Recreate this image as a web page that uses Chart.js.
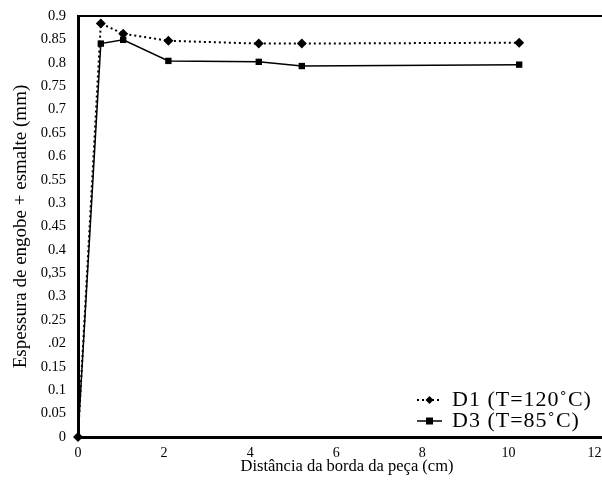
<!DOCTYPE html>
<html>
<head>
<meta charset="utf-8">
<script src="https://cdn.jsdelivr.net/npm/chart.js@4.4.1/dist/chart.umd.min.js"></script>
<style>
    html, body { margin: 0; padding: 0; background: #fff; overflow: hidden; }
    #wrap { width: 640px; height: 481px; }
</style>
</head>
<body>
<div id="wrap"><canvas id="thickness-chart"></canvas></div>
<script>
// distance from the tile edge (cm)
const distances = [0, 0.53, 1.05, 2.1, 4.2, 5.2, 10.25];
// engobe + glaze thickness (mm)
const d1Values = [0, 0.884, 0.862, 0.847, 0.841, 0.841, 0.843];
const d3Values = [0, 0.841, 0.849, 0.804, 0.802, 0.793, 0.796];
const seriesLabels = ['D1 (T=120\u02DAC)', 'D3 (T=85\u02DAC)'];

const yTickValues = [0, 0.05, 0.1, 0.15, 0.2, 0.25, 0.3, 0.35, 0.4, 0.45, 0.5, 0.55, 0.6, 0.65, 0.7, 0.75, 0.8, 0.85, 0.9];
const yTickLabels = ['0', '0.05', '0.1', '0.15', '.02', '0.25', '0.3', '0,35', '0.4', '0.45', '0.3', '0.55', '0.6', '0.65', '0.7', '0.75', '0.8', '0.85', '0.9'];
const xTickValues = [0, 2, 4, 6, 8, 10, 12];

const serif = 'Liberation Serif';

function toPoints(values) {
    return distances.map((x, i) => ({ x, y: values[i] }));
}

// top frame line and the legend sitting in the lower right of the plot
const framePlugin = {
    id: 'frame',
    afterDraw(chart) {
        const ctx = chart.ctx;
        const area = chart.chartArea;
        ctx.save();
        ctx.strokeStyle = '#000';
        ctx.lineWidth = 2;
        ctx.beginPath();
        ctx.moveTo(area.left, area.top);
        ctx.lineTo(area.right, area.top);
        ctx.stroke();

        const rows = [400, 421];
        const x0 = 417;
        chart.data.datasets.forEach((ds, i) => {
            const y = rows[i];
            ctx.strokeStyle = '#000';
            ctx.lineWidth = ds.borderWidth;
            ctx.setLineDash(ds.borderDash || []);
            ctx.beginPath();
            ctx.moveTo(x0, y);
            ctx.lineTo(x0 + 25, y);
            ctx.stroke();
            ctx.setLineDash([]);
            ctx.fillStyle = '#000';
            const cx = x0 + 12.5;
            if (ds.pointStyle === 'rectRot') {
                ctx.beginPath();
                ctx.moveTo(cx, y - 4);
                ctx.lineTo(cx + 4, y);
                ctx.lineTo(cx, y + 4);
                ctx.lineTo(cx - 4, y);
                ctx.closePath();
                ctx.fill();
            } else {
                ctx.fillRect(cx - 3.5, y - 3.5, 7, 7);
            }
            ctx.font = '22px "' + serif + '"';
            ctx.letterSpacing = '1px';
            ctx.textBaseline = 'middle';
            ctx.textAlign = 'left';
            ctx.fillText(ds.label, x0 + 35, y);
        });
        ctx.restore();
    }
};

new Chart(document.getElementById('thickness-chart'), {
    type: 'line',
    data: {
        datasets: [{
            label: seriesLabels[0],
            data: toPoints(d1Values),
            borderColor: '#000',
            backgroundColor: '#000',
            borderWidth: 2,
            borderDash: [2, 3],
            pointStyle: 'rectRot',
            pointRadius: 5,
            pointBorderWidth: 0,
            clip: false
        }, {
            label: seriesLabels[1],
            data: toPoints(d3Values),
            borderColor: '#000',
            backgroundColor: '#000',
            borderWidth: 1.5,
            pointStyle: 'rect',
            pointRadius: [0, 4.5, 4.5, 4.5, 4.5, 4.5, 4.5],
            pointBorderWidth: 0,
            clip: false
        }]
    },
    options: {
        responsive: true,
        maintainAspectRatio: false,
        animation: false,
        layout: { padding: { top: 16, right: 24 } },
        plugins: {
            legend: { display: false },
            tooltip: { enabled: false }
        },
        scales: {
            x: {
                type: 'linear',
                min: 0,
                max: 12.5,
                afterBuildTicks: scale => { scale.ticks = xTickValues.map(v => ({ value: v })); },
                afterFit: scale => { scale.height = 44; },
                grid: { display: false },
                border: { display: true, color: '#000', width: 3 },
                ticks: {
                    color: '#000',
                    padding: 0,
                    maxRotation: 0,
                    font: { family: serif, size: 14 }
                },
                title: {
                    display: true,
                    text: 'Distância da borda da peça (cm)',
                    color: '#000',
                    padding: { top: 0 },
                    font: { family: serif, size: 16.5 }
                }
            },
            y: {
                min: 0,
                max: 0.9,
                afterBuildTicks: scale => { scale.ticks = yTickValues.map(v => ({ value: v })); },
                afterFit: scale => { scale.width = 78; },
                grid: { display: false },
                border: { display: true, color: '#000', width: 3 },
                ticks: {
                    color: '#000',
                    padding: 4,
                    font: { family: serif, size: 14.5 },
                    callback: (value, index) => yTickLabels[index]
                },
                title: {
                    display: true,
                    text: 'Espessura de engobe + esmalte (mm)',
                    color: '#000',
                    padding: { top: 10, bottom: 0 },
                    font: { family: serif, size: 19 }
                }
            }
        }
    },
    plugins: [framePlugin]
});
</script>
</body>
</html>
